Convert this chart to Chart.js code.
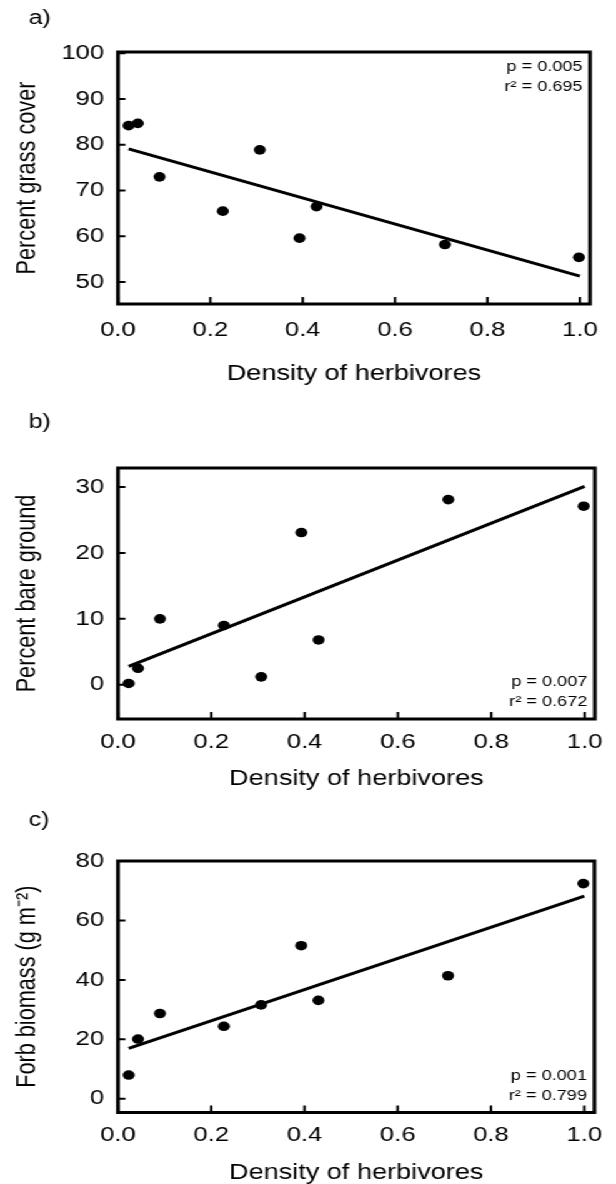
<!DOCTYPE html>
<html>
<head>
<meta charset="utf-8">
<script src="https://cdn.jsdelivr.net/npm/chart.js@4.4.1/dist/chart.umd.min.js"></script>
<style>
  body { margin: 0; background: #fff; }
  /* the figure is a bit stretched sideways, so draw narrow and widen */
  #wrap { position: absolute; left: 0; top: 0; width: 493px; height: 1184px;
          transform: scaleX(1.2495); transform-origin: 0 0; }
  #wrap canvas { position: absolute; left: 0; }
</style>
</head>
<body>
<div id="wrap">
  <canvas id="chartA" width="493" height="400" style="top:0px"></canvas>
  <canvas id="chartB" width="493" height="400" style="top:400px"></canvas>
  <canvas id="chartC" width="493" height="384" style="top:800px"></canvas>
</div>
<script>
// herbivore density at the nine sites (same x for all panels)
const density = [0.023, 0.043, 0.090, 0.227, 0.307, 0.393, 0.430, 0.708, 0.998];
const grassCover = [84.2, 84.7, 73.0, 65.5, 78.9, 59.6, 66.5, 58.2, 55.4];
const bareGround = [0.2, 2.5, 10.0, 9.0, 1.2, 23.1, 6.8, 28.1, 27.1];
const forbBiomass = [8.0, 20.1, 28.7, 24.4, 31.6, 51.5, 33.1, 41.4, 72.4];

// regression lines, read at both ends
const fitX = [0.023, 1.0];
const grassFit = [79.1, 51.3];
const bareFit = [2.8, 30.1];
const forbFit = [17.0, 68.2];

// tick values
const xTicks = [0, 0.2, 0.4, 0.6, 0.8, 1.0];
const grassTicks = [50, 60, 70, 80, 90, 100];
const bareTicks = [0, 10, 20, 30];
const forbTicks = [0, 20, 40, 60, 80];

const statsA = ['p = 0.005', 'r\u00B2 = 0.695'];
const statsB = ['p = 0.007', 'r\u00B2 = 0.672'];
const statsC = ['p = 0.001', 'r\u00B2 = 0.799'];

Chart.defaults.font.family = "'Liberation Sans', Arial, sans-serif";
Chart.defaults.color = '#000';

// box, inward ticks, panel letter and the p / r2 note
const panelDecor = {
  id: 'panelDecor',
  afterDraw(chart, args, opts) {
    const ctx = chart.ctx;
    const a = chart.chartArea;
    const xs = chart.scales.x, ys = chart.scales.y;
    ctx.save();
    ctx.strokeStyle = '#000';
    ctx.lineWidth = 3;
    ctx.strokeRect(a.left, a.top, a.right - a.left, a.bottom - a.top);

    ctx.lineWidth = 2;
    ctx.beginPath();
    xs.ticks.forEach(t => {
      const px = xs.getPixelForValue(t.value);
      ctx.moveTo(px, a.bottom);
      ctx.lineTo(px, a.bottom - 7);
    });
    ys.ticks.forEach(t => {
      const py = ys.getPixelForValue(t.value);
      ctx.moveTo(a.left, py);
      ctx.lineTo(a.left + 6, py);
    });
    ctx.stroke();

    ctx.fillStyle = '#000';
    ctx.font = "20px 'Liberation Sans', Arial, sans-serif";
    ctx.textAlign = 'left';
    ctx.textBaseline = 'middle';
    ctx.fillText(opts.letter, 23, opts.letterY);

    ctx.font = "14.5px 'Liberation Sans', Arial, sans-serif";
    ctx.textAlign = 'right';
    const x = a.right - 6;
    if (opts.statsAt === 'top') {
      ctx.fillText(opts.stats[0], x, a.top + 15);
      ctx.fillText(opts.stats[1], x, a.top + 35);
    } else {
      ctx.fillText(opts.stats[0], x, a.bottom - 37);
      ctx.fillText(opts.stats[1], x, a.bottom - 17);
    }
    ctx.restore();
  }
};

function makeChart(id, yValues, fitY, p) {
  const pts = density.map((x, i) => ({ x: x, y: yValues[i] }));
  const line = fitX.map((x, i) => ({ x: x, y: fitY[i] }));
  return new Chart(document.getElementById(id), {
    type: 'scatter',
    data: {
      datasets: [
        { data: pts, backgroundColor: '#000', borderWidth: 0, pointRadius: 4.8 },
        { data: line, showLine: true, borderColor: '#000', borderWidth: 3, pointRadius: 0 }
      ]
    },
    options: {
      responsive: false,
      animation: false,
      layout: { padding: { top: p.top, right: 9.8, bottom: p.bottom, left: 0 } },
      plugins: {
        legend: { display: false },
        tooltip: { enabled: false },
        panelDecor: { letter: p.letter, letterY: p.letterY, stats: p.stats, statsAt: p.statsAt }
      },
      scales: {
        x: {
          type: 'linear', min: 0, max: 1.022,
          afterBuildTicks: s => { s.ticks = xTicks.map(v => ({ value: v })); },
          afterFit: s => { s.height = p.xHeight; },
          grid: { display: false, drawTicks: false },
          border: { display: false },
          ticks: { font: { size: 20.5 }, padding: p.xTickPad, maxRotation: 0, autoSkip: false,
                   callback: v => v.toFixed(1) },
          title: { display: true, text: 'Density of herbivores', font: { size: 21.7, lineHeight: 1 },
                   padding: 0 }
        },
        y: {
          type: 'linear', min: p.yMin, max: p.yMax,
          afterBuildTicks: s => { s.ticks = p.yTicks.map(v => ({ value: v })); },
          afterFit: s => { s.width = 94.4; },
          grid: { display: false, drawTicks: false },
          border: { display: false },
          ticks: { font: { size: 20.5 }, padding: 11, autoSkip: false },
          title: { display: true, text: p.yTitle, font: { size: 21.7, lineHeight: 1 },
                   padding: { top: 11, bottom: 0 } }
        }
      }
    },
    plugins: [panelDecor]
  });
}

makeChart('chartA', grassCover, grassFit, {
  letter: 'a)', letterY: 18, stats: statsA, statsAt: 'top',
  top: 52, bottom: 15, xHeight: 81, xTickPad: 14.5,
  yMin: 45.2, yMax: 100.3, yTicks: grassTicks, yTitle: 'Percent grass cover'
});
makeChart('chartB', bareGround, bareFit, {
  letter: 'b)', letterY: 22, stats: statsB, statsAt: 'bottom',
  top: 68, bottom: 10, xHeight: 71, xTickPad: 10.7,
  yMin: -5.2, yMax: 32.9, yTicks: bareTicks, yTitle: 'Percent bare ground'
});
makeChart('chartC', forbBiomass, forbFit, {
  letter: 'c)', letterY: 20, stats: statsC, statsAt: 'bottom',
  top: 61, bottom: 0, xHeight: 71.5, xTickPad: 11,
  yMin: -4.6, yMax: 80, yTicks: forbTicks, yTitle: 'Forb biomass (g m\u207B\u00B2)'
});
</script>
</body>
</html>
